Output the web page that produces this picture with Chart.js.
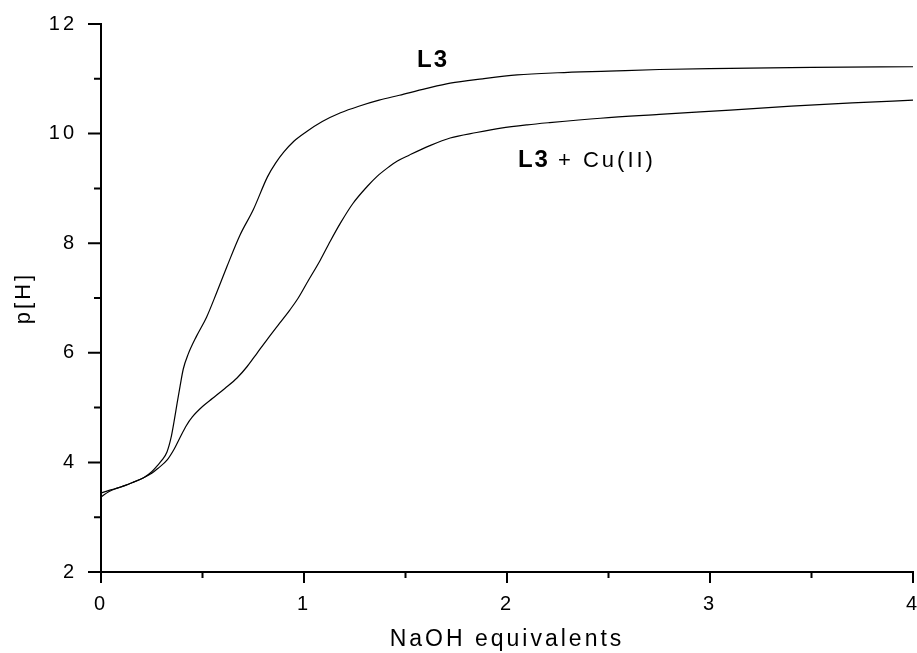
<!DOCTYPE html>
<html>
<head>
<meta charset="utf-8">
<script src="https://cdn.jsdelivr.net/npm/chart.js@4"></script>
<style>
  html, body { margin: 0; padding: 0; background: #fff; }
  #wrap { width: 917px; height: 653px; }
</style>
</head>
<body>
<div id="wrap"><canvas id="myChart"></canvas></div>
<script>
// titration curves
const l3X = [0.00, 0.04, 0.08, 0.12, 0.16, 0.21, 0.25, 0.28, 0.30, 0.325, 0.345, 0.36, 0.375, 0.39, 0.405, 0.43, 0.47, 0.52, 0.57, 0.62, 0.685, 0.75, 0.82, 0.86, 0.90, 0.95, 1.01, 1.09, 1.18, 1.27, 1.37, 1.47, 1.60, 1.72, 1.88, 2.05, 2.25, 2.50, 2.75, 3.10, 3.50, 4.00];
const l3Y = [3.37, 3.47, 3.53, 3.58, 3.64, 3.72, 3.83, 3.95, 4.04, 4.19, 4.45, 4.75, 5.08, 5.40, 5.70, 5.98, 6.30, 6.65, 7.10, 7.57, 8.15, 8.61, 9.21, 9.46, 9.66, 9.86, 10.03, 10.22, 10.38, 10.50, 10.61, 10.70, 10.82, 10.92, 11.00, 11.07, 11.11, 11.14, 11.17, 11.19, 11.21, 11.22];

const cuX = [0.00, 0.04, 0.08, 0.12, 0.16, 0.21, 0.25, 0.28, 0.325, 0.36, 0.39, 0.42, 0.45, 0.50, 0.55, 0.61, 0.67, 0.72, 0.77, 0.82, 0.88, 0.93, 0.97, 1.02, 1.08, 1.13, 1.18, 1.24, 1.31, 1.36, 1.41, 1.46, 1.52, 1.62, 1.72, 1.85, 1.97, 2.10, 2.21, 2.46, 2.75, 3.10, 3.40, 3.70, 4.00];
const cuY = [3.44, 3.49, 3.53, 3.58, 3.64, 3.72, 3.80, 3.89, 4.04, 4.24, 4.46, 4.67, 4.83, 5.02, 5.17, 5.35, 5.54, 5.75, 6.00, 6.25, 6.54, 6.78, 6.99, 7.31, 7.69, 8.04, 8.37, 8.72, 9.03, 9.22, 9.37, 9.50, 9.61, 9.78, 9.92, 10.02, 10.10, 10.16, 10.20, 10.28, 10.35, 10.43, 10.50, 10.56, 10.61];

const xTicks = [0, 1, 2, 3, 4];
const yTicks = [2, 4, 6, 8, 10, 12];

const toPoints = (xs, ys) => xs.map((x, i) => ({ x: x, y: ys[i] }));

const FONT = '"Liberation Sans", Arial, Helvetica, sans-serif';

// spaced-out lettering like the original
const spacing = {
    id: 'spacing',
    beforeDraw(chart) {
        chart.ctx.letterSpacing = '3px';
    }
};

// major and minor tick marks, drawn outside the axes
const tickMarks = {
    id: 'tickMarks',
    afterDraw(chart) {
        const { ctx, scales: { x, y } } = chart;
        ctx.save();
        ctx.strokeStyle = '#000';
        ctx.lineWidth = 2;
        ctx.beginPath();
        x.ticks.forEach(t => {
            const px = x.getPixelForValue(t.value);
            const len = xTicks.includes(t.value) ? 11 : 6;
            ctx.moveTo(px, x.top);
            ctx.lineTo(px, x.top + len);
        });
        y.ticks.forEach(t => {
            const py = y.getPixelForValue(t.value);
            const len = yTicks.includes(t.value) ? 13 : 7;
            ctx.moveTo(y.right, py);
            ctx.lineTo(y.right - len, py);
        });
        ctx.stroke();
        ctx.restore();
    }
};

// curve labels, anchored in data units
const curveNotes = [
    { x: 1.557, y: 11.215, bold: 'L3', rest: '' },
    { x: 2.054, y: 9.39, bold: 'L3', rest: '+ Cu(II)' }
];

const notes = {
    id: 'notes',
    afterDatasetsDraw(chart) {
        const { ctx, scales: { x, y } } = chart;
        ctx.save();
        ctx.fillStyle = '#000';
        ctx.textBaseline = 'alphabetic';
        ctx.textAlign = 'left';
        ctx.letterSpacing = '2px';
        curveNotes.forEach(n => {
            let px = x.getPixelForValue(n.x);
            const py = y.getPixelForValue(n.y);
            ctx.font = 'bold 24px ' + FONT;
            ctx.fillText(n.bold, px, py);
            if (n.rest) {
                px += ctx.measureText(n.bold).width + 8;
                ctx.letterSpacing = '3px';
                ctx.font = '22px ' + FONT;
                ctx.fillText(n.rest, px, py);
                ctx.letterSpacing = '2px';
            }
        });
        ctx.restore();
    }
};

const ctx = document.getElementById('myChart');

new Chart(ctx, {
    type: 'line',
    data: {
        datasets: [{
            label: 'L3',
            data: toPoints(l3X, l3Y),
            borderColor: '#000',
            borderWidth: 1.2,
            pointRadius: 0,
            cubicInterpolationMode: 'monotone',
            fill: false
        }, {
            label: 'L3 + Cu(II)',
            data: toPoints(cuX, cuY),
            borderColor: '#000',
            borderWidth: 1.2,
            pointRadius: 0,
            cubicInterpolationMode: 'monotone',
            fill: false
        }]
    },
    options: {
        responsive: true,
        maintainAspectRatio: false,
        animation: false,
        layout: {
            padding: { top: 24, right: 4, left: 0, bottom: 0 }
        },
        plugins: {
            legend: { display: false },
            tooltip: { enabled: false }
        },
        scales: {
            x: {
                type: 'linear',
                min: 0,
                max: 4,
                grid: { drawOnChartArea: false, drawTicks: false },
                border: { display: true, color: '#000', width: 2 },
                ticks: {
                    stepSize: 0.5,
                    autoSkip: false,
                    maxRotation: 0,
                    padding: 20,
                    color: '#000',
                    font: { family: FONT, size: 20 },
                    callback: v => xTicks.includes(v) ? String(v) : ''
                },
                title: {
                    display: true,
                    text: 'NaOH equivalents',
                    color: '#000',
                    font: { family: FONT, size: 23 },
                    padding: { top: 0, bottom: 0 }
                },
                afterFit(scale) {
                    scale.height = 81;
                    scale.paddingLeft = 0;
                    scale.paddingRight = 0;
                }
            },
            y: {
                min: 2,
                max: 12,
                grid: { drawOnChartArea: false, drawTicks: false },
                border: { display: true, color: '#000', width: 2 },
                ticks: {
                    stepSize: 1,
                    autoSkip: false,
                    padding: 24,
                    color: '#000',
                    font: { family: FONT, size: 20 },
                    callback: v => yTicks.includes(v) ? String(v) : ''
                },
                title: {
                    display: true,
                    text: 'p[H]',
                    color: '#000',
                    font: { family: FONT, size: 22 },
                    padding: { top: 11, bottom: 0 }
                },
                afterFit(scale) {
                    scale.width = 101;
                    scale.paddingTop = 0;
                    scale.paddingBottom = 0;
                }
            }
        }
    },
    plugins: [spacing, tickMarks, notes]
});
</script>
</body>
</html>
